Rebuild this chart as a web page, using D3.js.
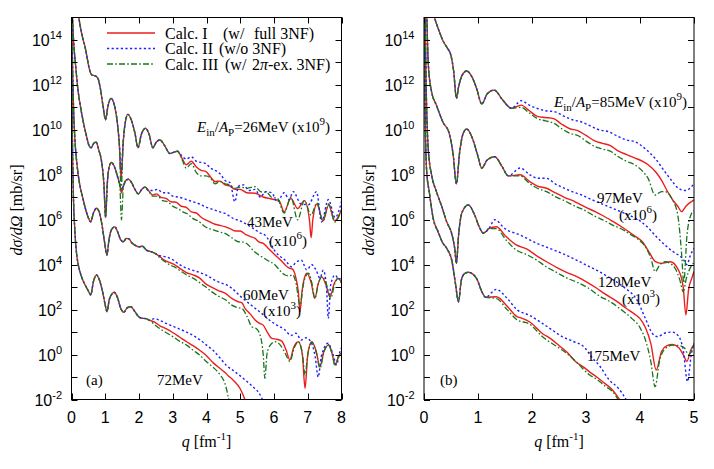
<!DOCTYPE html>
<html><head><meta charset="utf-8">
<script src="https://cdn.jsdelivr.net/npm/d3@7"></script>
<style>body{margin:0;background:#fff}svg{display:block}</style>
</head><body><svg id="c" width="714" height="469"></svg>
<script>
// ---------- data (q in fm^-1, value = log10 of dσ/dΩ incl. offset factor) ----------
const qTicksA = [0,1,2,3,4,5,6,7,8];
const qTicksB = [0,1,2,3,4,5];
const yLabelExps = [-2,0,2,4,6,8,10,12,14];
const yTickExps = [-2,-1,0,1,2,3,4,5,6,7,8,9,10,11,12,13,14];
const calcNames = ["Calc. I", "Calc. II", "Calc. III"];

// Panel (a): 26 MeV (x1e9)
const A26_pre = [[0.19,15.3],[0.26,14.6],[0.33,14.1],[0.40,13.7],[0.47,13.15],[0.53,12.7],[0.60,12.45],[0.70,12.4],[0.78,12.3],[0.86,11.8],[0.94,11.0],[1.01,10.45],[1.08,11.05],[1.17,11.4],[1.27,11.1],[1.36,10.3],[1.42,9.3]];
const A26_dipI = [[1.47,7.8]];
const A26_dipII = [[1.47,8.1]];
const A26_dipIII = [[1.47,7.3]];
const A26_mid = [[1.53,9.4],[1.59,10.3],[1.67,10.69],[1.77,10.45],[1.88,9.85],[1.97,9.2],[2.07,9.8],[2.19,10.07],[2.30,9.8],[2.41,9.2],[2.51,9.45],[2.62,9.55],[2.76,9.3],[2.91,8.95],[3.02,9.0],[3.14,9.05]];
const A26_I = [[3.27,8.75],[3.40,8.45],[3.55,8.6],[3.70,8.35],[3.84,8.2],[3.98,8.15],[4.12,7.9],[4.25,7.7],[4.40,7.72],[4.55,7.55],[4.70,7.5],[4.85,7.35],[5.0,7.35],[5.2,7.2],[5.44,7.18],[5.7,7.0],[5.85,6.95],[6.0,6.9],[6.15,6.85],[6.3,6.35],[6.5,6.95],[6.7,6.5],[6.9,6.85],[7.05,6.0],[7.1,5.2],[7.15,6.0],[7.27,6.7],[7.45,5.95],[7.62,6.65],[7.8,5.95],[8.0,6.45]];
const A26_II = [[3.27,8.85],[3.40,8.7],[3.55,8.8],[3.70,8.6],[3.84,8.55],[3.98,8.5],[4.12,8.3],[4.25,8.2],[4.40,8.05],[4.55,7.75],[4.70,7.65],[4.84,6.8],[4.95,7.5],[5.1,7.55],[5.25,7.3],[5.44,7.35],[5.6,7.0],[5.75,7.25],[5.93,7.2],[6.1,6.8],[6.3,7.2],[6.45,6.9],[6.57,7.25],[6.8,6.7],[7.02,6.67],[7.26,7.25],[7.41,5.9],[7.61,6.9],[7.81,6.1],[8.0,6.8]];
const A26_III = [[3.27,8.7],[3.40,8.3],[3.55,8.5],[3.70,8.1],[3.84,7.95],[3.98,7.95],[4.12,7.85],[4.25,7.6],[4.40,7.7],[4.55,7.6],[4.70,7.55],[4.85,7.4],[5.0,7.45],[5.2,7.4],[5.44,7.47],[5.6,7.25],[5.8,7.2],[5.93,7.0],[6.1,6.95],[6.3,6.3],[6.5,7.0],[6.7,6.0],[6.9,6.85],[7.1,6.2],[7.27,6.75],[7.45,5.95],[7.62,6.7],[7.8,5.9],[8.0,6.45]];

// Panel (a): 43 MeV (x1e6)
const A43_pre = [[0.02,15.3],[0.06,14.0],[0.12,12.9],[0.19,11.8],[0.27,11.0],[0.35,10.35],[0.44,9.75],[0.52,9.3],[0.58,9.2],[0.66,9.4],[0.73,9.45],[0.81,9.1],[0.89,8.6],[0.96,7.6],[1.01,6.1],[1.06,7.6],[1.11,8.3],[1.18,8.55],[1.26,8.4],[1.35,8.0],[1.43,7.55]];
const A43_dipI = [[1.48,7.2]];
const A43_dipII = [[1.48,7.4]];
const A43_dipIII = [[1.48,6.0]];
const A43_mid = [[1.54,7.5],[1.61,7.75],[1.69,7.8],[1.78,7.65],[1.88,7.35],[1.98,7.15],[2.08,7.35],[2.18,7.45],[2.28,7.3]];
const A43_I = [[2.4,7.1],[2.52,7.15],[2.65,7.0],[2.8,6.95],[2.95,6.8],[3.1,6.78],[3.25,6.6],[3.4,6.55],[3.55,6.35],[3.7,6.3],[3.85,6.1],[3.96,6.0],[4.1,5.9],[4.25,5.8],[4.4,5.75],[4.55,5.69],[4.7,5.6],[4.85,5.5],[5.0,5.5],[5.15,5.35],[5.3,5.25],[5.44,5.17],[5.56,5.0],[5.68,4.95],[5.85,4.7],[6.03,4.43],[6.2,4.2],[6.33,3.99],[6.45,3.85],[6.55,3.8],[6.65,3.4],[6.72,2.8],[6.77,1.91],[6.83,2.8],[6.9,3.4],[6.98,3.62],[7.1,3.2],[7.21,2.5],[7.31,3.15],[7.41,3.47],[7.54,3.1],[7.66,2.57],[7.78,3.15],[7.9,3.39],[8.0,3.2]];
const A43_II = [[2.4,7.3],[2.55,7.35],[2.7,7.2],[2.85,7.2],[3.0,7.05],[3.2,7.0],[3.4,6.9],[3.6,6.8],[3.8,6.7],[3.96,6.58],[4.2,6.45],[4.4,6.35],[4.55,6.28],[4.8,6.05],[5.0,5.95],[5.14,5.84],[5.4,5.6],[5.6,5.4],[5.73,5.32],[5.9,4.95],[6.03,4.6],[6.13,4.43],[6.33,4.2],[6.52,3.91],[6.65,4.1],[6.81,4.2],[6.97,3.77],[7.12,4.0],[7.25,3.75],[7.36,3.4],[7.46,3.75],[7.55,3.1],[7.61,1.61],[7.68,3.1],[7.81,3.54],[7.92,3.35],[8.0,3.45]];
const A43_III = [[2.4,7.05],[2.55,7.05],[2.7,6.85],[2.85,6.8],[3.0,6.6],[3.15,6.5],[3.3,6.35],[3.45,6.25],[3.6,6.05],[3.75,5.95],[3.96,5.69],[4.2,5.55],[4.4,5.45],[4.55,5.39],[4.75,5.2],[4.94,5.02],[5.1,5.0],[5.24,4.88],[5.4,4.6],[5.63,4.36],[5.8,4.2],[6.03,3.99],[6.2,3.7],[6.33,3.54],[6.45,3.5],[6.55,3.55],[6.65,3.2],[6.77,2.2],[6.88,3.2],[7.02,3.62],[7.12,3.2],[7.21,2.5],[7.32,3.2],[7.43,3.47],[7.56,3.1],[7.68,2.5],[7.8,3.15],[7.9,3.39],[8.0,3.17]];

// Panel (a): 60 MeV (x1e3)
const A60_pre = [[0.01,15.3],[0.03,13.0],[0.06,11.0],[0.1,9.6],[0.16,8.5],[0.24,7.6],[0.33,7.0],[0.43,6.4],[0.51,6.05],[0.57,5.91],[0.65,6.3],[0.74,6.51],[0.82,6.35],[0.9,5.8],[0.98,5.0],[1.05,4.43],[1.11,5.1],[1.18,5.55],[1.28,5.69],[1.37,5.45],[1.46,5.1],[1.53,5.02],[1.63,5.17],[1.7,5.15],[1.8,4.95],[1.9,4.85],[2.0,4.8],[2.1,4.82],[2.22,4.65],[2.35,4.58],[2.5,4.48]];
const A60_I = [[2.62,4.36],[2.75,4.2],[2.9,4.1],[3.05,4.0],[3.2,3.85],[3.4,3.65],[3.6,3.55],[3.8,3.4],[3.96,3.17],[4.15,3.0],[4.35,2.85],[4.55,2.73],[4.75,2.5],[4.94,2.35],[5.05,2.3],[5.14,2.06],[5.3,1.8],[5.44,1.54],[5.56,1.4],[5.68,1.31],[5.8,1.0],[5.93,0.72],[6.08,0.68],[6.23,0.6],[6.36,0.2],[6.47,-0.24],[6.58,0.3],[6.72,0.57],[6.84,0.0],[6.92,-1.5],[7.0,0.0],[7.12,0.57],[7.25,0.15],[7.36,-0.54],[7.48,0.15],[7.61,0.42],[7.72,0.05],[7.81,-0.47],[7.92,-0.05],[8.0,0.06]];
const A60_II = [[2.62,4.4],[2.8,4.35],[3.0,4.22],[3.2,4.0],[3.4,3.85],[3.6,3.75],[3.8,3.65],[3.99,3.54],[4.2,3.35],[4.4,3.2],[4.6,3.1],[4.75,2.95],[5.0,2.6],[5.2,2.35],[5.44,2.06],[5.7,1.75],[5.93,1.46],[6.1,1.3],[6.33,1.09],[6.5,0.85],[6.65,0.95],[6.81,0.65],[6.95,0.75],[7.1,0.55],[7.22,-0.1],[7.31,-1.0],[7.4,-0.1],[7.6,0.5],[7.75,0.0],[7.85,-0.45],[7.95,0.1],[8.0,0.3]];
const A60_III = [[2.62,4.3],[2.75,4.15],[2.9,4.0],[3.05,3.9],[3.2,3.75],[3.4,3.55],[3.6,3.4],[3.8,3.2],[3.96,3.03],[4.15,2.8],[4.35,2.6],[4.55,2.45],[4.75,2.2],[4.9,2.1],[5.05,2.05],[5.2,1.7],[5.34,1.24],[5.48,1.15],[5.6,0.8],[5.68,0.0],[5.73,-1.06],[5.79,0.0],[5.88,0.4],[6.03,0.57],[6.2,0.4],[6.35,0.0],[6.47,-0.3],[6.6,0.3],[6.72,0.57],[6.84,0.05],[6.92,-0.9],[7.0,0.0],[7.12,0.55],[7.25,0.1],[7.36,-0.6],[7.48,0.1],[7.61,0.45],[7.72,0.05],[7.81,-0.5],[7.92,-0.05],[8.0,0.06]];

// Panel (a): 72 MeV (x1)
const A72_pre = [[0.005,15.3],[0.02,11.0],[0.05,7.5],[0.1,5.5],[0.15,4.5],[0.2,4.0],[0.3,3.45],[0.42,3.05],[0.51,2.8],[0.57,2.65],[0.65,3.25],[0.74,3.54],[0.82,3.35],[0.92,2.8],[1.0,2.2],[1.05,1.91],[1.12,2.45],[1.2,2.7],[1.26,2.77],[1.36,2.55],[1.46,2.05],[1.55,1.88],[1.65,2.08],[1.76,2.13],[1.86,1.95],[1.97,1.72],[2.07,1.62],[2.2,1.6],[2.32,1.52]];
const A72_I = [[2.45,1.45],[2.62,1.28],[2.8,1.15],[3.02,0.96],[3.2,0.78],[3.41,0.57],[3.6,0.4],[3.81,0.18],[4.0,-0.05],[4.2,-0.37],[4.4,-0.62],[4.55,-0.8],[4.65,-0.95],[4.8,-1.15],[4.99,-1.5],[5.1,-1.85],[5.2,-2.3]];
const A72_II = [[2.45,1.6],[2.62,1.52],[2.82,1.38],[3.1,1.2],[3.41,1.0],[3.6,0.85],[3.81,0.65],[4.0,0.42],[4.2,0.18],[4.4,-0.15],[4.6,-0.5],[4.8,-0.72],[5.0,-0.95],[5.2,-1.2],[5.39,-1.45],[5.55,-1.7],[5.75,-2.3]];
const A72_III = [[2.45,1.35],[2.62,1.15],[2.8,0.98],[3.0,0.8],[3.2,0.6],[3.41,0.42],[3.6,0.2],[3.81,-0.04],[4.0,-0.32],[4.2,-0.57],[4.4,-0.9],[4.55,-1.3],[4.7,-2.3]];

// Panel (b): 85 MeV (x1e9)
const B85_pre = [[0.16,15.3],[0.22,14.8],[0.28,14.4],[0.36,13.92],[0.43,13.65],[0.5,13.3],[0.55,12.6],[0.6,11.4],[0.64,11.9],[0.7,12.4],[0.79,12.62],[0.9,12.3],[0.98,11.8],[1.07,11.15],[1.17,11.6],[1.3,11.77],[1.45,11.35],[1.62,10.96]];
const B85_I = [[1.8,11.1],[1.95,10.85],[2.1,10.6],[2.25,10.55],[2.4,10.5],[2.55,10.25],[2.7,10.05],[2.85,9.97],[3.0,9.75],[3.17,9.5],[3.3,9.4],[3.45,9.3],[3.6,9.05],[3.75,8.9],[3.9,8.75],[4.05,8.6],[4.15,8.45],[4.3,8.1],[4.4,7.75],[4.5,7.3],[4.6,6.9],[4.7,6.6],[4.77,6.36],[4.85,6.6],[5.0,6.88]];
const B85_II = [[1.8,11.3],[1.95,11.1],[2.1,10.95],[2.25,10.85],[2.43,10.8],[2.6,10.6],[2.75,10.45],[2.92,10.35],[3.1,10.15],[3.25,10.0],[3.42,9.92],[3.6,9.7],[3.75,9.55],[3.91,9.47],[4.1,9.15],[4.28,8.73],[4.46,8.14],[4.6,7.7],[4.71,7.4],[4.84,7.3],[5.0,7.6]];
const B85_III = [[1.8,11.0],[1.95,10.75],[2.1,10.5],[2.25,10.4],[2.4,10.3],[2.55,10.05],[2.7,9.85],[2.85,9.75],[3.0,9.5],[3.17,9.25],[3.3,9.15],[3.45,9.05],[3.6,8.8],[3.75,8.6],[3.9,8.45],[4.05,8.15],[4.15,7.84],[4.28,7.1],[4.4,7.25],[4.46,7.25],[4.6,6.9],[4.7,6.2],[4.77,4.5],[4.81,3.2],[4.87,5.3],[4.94,6.2],[5.0,6.4]];

// Panel (b): 97 MeV (x1e6)
const B97_pre = [[0.05,15.3],[0.08,12.9],[0.14,11.7],[0.23,11.1],[0.36,10.3],[0.46,9.9],[0.54,8.9],[0.6,7.6],[0.66,9.0],[0.72,9.8],[0.79,10.04],[0.9,9.6],[0.99,8.9],[1.07,8.3],[1.17,8.66],[1.31,8.8],[1.45,8.35],[1.56,7.95]];
const B97_I = [[1.78,8.0],[1.96,7.7],[2.1,7.5],[2.27,7.4],[2.43,7.2],[2.6,7.0],[2.8,6.8],[3.0,6.55],[3.17,6.36],[3.3,6.2],[3.48,5.95],[3.65,5.7],[3.79,5.47],[3.92,5.25],[4.04,5.03],[4.17,4.55],[4.28,4.15],[4.4,4.06],[4.56,4.13],[4.71,3.77],[4.8,3.0],[4.85,1.76],[4.9,2.9],[4.96,3.4],[5.0,3.7]];
const B97_II = [[1.78,8.3],[1.96,8.0],[2.1,7.85],[2.27,7.84],[2.43,7.6],[2.6,7.4],[2.8,7.2],[2.92,7.1],[3.1,6.9],[3.25,6.75],[3.42,6.58],[3.6,6.4],[3.79,6.21],[4.0,5.95],[4.16,5.62],[4.3,5.25],[4.46,4.88],[4.6,4.6],[4.71,4.43],[4.8,4.25],[4.87,4.0],[4.93,4.4],[5.0,4.73]];
const B97_III = [[1.78,7.95],[1.96,7.6],[2.1,7.4],[2.27,7.25],[2.43,7.03],[2.6,6.85],[2.8,6.6],[2.95,6.45],[3.17,6.15],[3.35,5.95],[3.5,5.75],[3.65,5.6],[3.79,5.4],[3.95,5.15],[4.1,4.8],[4.2,4.3],[4.28,3.69],[4.37,4.0],[4.46,4.13],[4.56,4.05],[4.65,3.84],[4.74,3.3],[4.8,2.8],[4.86,3.4],[4.94,3.9],[5.0,4.1]];

// Panel (b): 120 MeV (x1e3)
const B120_pre = [[0.02,15.3],[0.04,12.0],[0.08,9.1],[0.14,8.0],[0.23,7.25],[0.32,6.65],[0.42,5.91],[0.52,5.32],[0.57,4.7],[0.6,4.06],[0.64,5.3],[0.7,6.3],[0.82,6.66],[0.94,6.2],[1.02,5.7],[1.1,5.4],[1.2,5.6]];
const B120_I = [[1.34,5.69],[1.52,5.25],[1.71,4.88],[1.9,4.7],[2.11,4.36],[2.27,4.13],[2.48,3.85],[2.65,3.65],[2.8,3.5],[3.0,3.25],[3.2,2.95],[3.35,2.7],[3.55,2.4],[3.75,2.05],[3.9,1.8],[4.0,1.6],[4.1,1.2],[4.2,0.5],[4.3,-0.69],[4.4,0.15],[4.5,0.4],[4.6,0.45],[4.72,0.3],[4.8,0.0],[4.87,-0.3],[4.94,0.2],[5.0,0.45]];
const B120_II = [[1.31,6.0],[1.5,5.6],[1.78,5.32],[2.09,4.95],[2.3,4.75],[2.48,4.58],[2.7,4.35],[2.95,4.05],[3.2,3.75],[3.45,3.4],[3.7,3.0],[3.95,2.4],[4.1,1.6],[4.23,0.94],[4.33,0.8],[4.45,0.95],[4.6,1.0],[4.72,0.8],[4.8,0.2],[4.88,-1.2],[4.95,0.0],[5.0,0.5]];
const B120_III = [[1.34,5.6],[1.52,5.1],[1.71,4.65],[1.9,4.45],[2.09,4.2],[2.27,3.9],[2.48,3.62],[2.65,3.4],[2.85,3.2],[3.05,2.95],[3.25,2.6],[3.45,2.35],[3.65,2.0],[3.85,1.6],[4.0,1.2],[4.12,0.5],[4.2,-0.3],[4.28,-1.43],[4.36,-0.3],[4.46,0.25],[4.6,0.42],[4.72,0.4],[4.82,0.3],[4.9,0.0],[5.0,0.5]];

// Panel (b): 175 MeV (x1)
const B175_pre = [[0.01,15.3],[0.02,11.0],[0.05,8.14],[0.1,7.2],[0.17,6.06],[0.26,5.47],[0.34,5.0],[0.42,4.73],[0.52,4.13],[0.58,3.2],[0.64,2.35],[0.69,3.3],[0.75,3.6],[0.82,3.66],[0.97,3.4],[1.08,2.75],[1.14,2.55]];
const B175_I = [[1.34,2.57],[1.54,2.15],[1.72,1.69],[1.81,1.62],[1.96,1.45],[2.19,0.94],[2.35,0.7],[2.5,0.4],[2.65,0.1],[2.81,-0.32],[2.95,-0.55],[3.06,-0.76],[3.2,-1.0],[3.31,-1.21],[3.49,-1.58],[3.62,-2.0],[3.7,-2.3]];
const B175_II = [[1.34,2.9],[1.54,2.5],[1.72,2.0],[1.95,1.75],[2.19,1.39],[2.4,1.05],[2.56,0.8],[2.75,0.6],[2.98,0.3],[3.1,-0.1],[3.25,-0.5],[3.43,-1.13],[3.6,-1.5],[3.74,-2.0],[3.8,-2.3]];
const B175_III = [[1.34,2.5],[1.54,2.0],[1.72,1.55],[1.96,1.35],[2.19,0.8],[2.4,0.45],[2.56,0.2],[2.68,-0.02],[2.85,-0.4],[3.06,-0.9],[3.2,-1.1],[3.35,-1.4],[3.49,-1.65],[3.59,-2.0],[3.65,-2.3]];

// ---------- build series ----------
const seriesA = [
  [A26_pre.concat(A26_dipI, A26_mid, A26_I), A26_pre.concat(A26_dipII, A26_mid, A26_II), A26_pre.concat(A26_dipIII, A26_mid, A26_III)],
  [A43_pre.concat(A43_dipI, A43_mid, A43_I), A43_pre.concat(A43_dipII, A43_mid, A43_II), A43_pre.concat(A43_dipIII, A43_mid, A43_III)],
  [A60_pre.concat(A60_I), A60_pre.concat(A60_II), A60_pre.concat(A60_III)],
  [A72_pre.concat(A72_I), A72_pre.concat(A72_II), A72_pre.concat(A72_III)]
];
const seriesB = [
  [B85_pre.concat(B85_I), B85_pre.concat(B85_II), B85_pre.concat(B85_III)],
  [B97_pre.concat(B97_I), B97_pre.concat(B97_II), B97_pre.concat(B97_III)],
  [B120_pre.concat(B120_I), B120_pre.concat(B120_II), B120_pre.concat(B120_III)],
  [B175_pre.concat(B175_I), B175_pre.concat(B175_II), B175_pre.concat(B175_III)]
];

// ---------- drawing ----------
const svg = d3.select("#c");
const TOP = 17.5, BOT = 399.5;
const y = d3.scaleLog().domain([1e-2, 1e15]).range([BOT, TOP]);
const styles = [
  {stroke:"#ee1d1d", dash:null, w:1.4},
  {stroke:"#1f1fff", dash:"2.2,2.4", w:1.4},
  {stroke:"#16761a", dash:"6,2.2,1.6,2.2", w:1.3}
];
const SERIF = "'Liberation Serif','Times New Roman',serif";
const SANS = "'Liberation Sans',Arial,sans-serif";

function drawPanel(id, x0, x1, qmax, qTicks, series) {
  const x = d3.scaleLinear().domain([0, qmax]).range([x0, x1]);
  const g = svg.append("g");
  svg.append("clipPath").attr("id", "clip" + id).append("rect")
    .attr("x", x0).attr("y", TOP).attr("width", x1 - x0).attr("height", BOT - TOP);
  const line = d3.line().x(d => x(d[0])).y(d => y(Math.pow(10, d[1]))).curve(d3.curveMonotoneX);
  const cg = g.append("g").attr("clip-path", "url(#clip" + id + ")");
  [0,1,2].forEach(ci => {
    series.forEach(s => {
      cg.append("path").attr("d", line(s[ci])).attr("fill", "none")
        .attr("stroke", styles[ci].stroke).attr("stroke-width", styles[ci].w)
        .attr("stroke-dasharray", styles[ci].dash);
    });
  });
  g.append("rect").attr("x", x0).attr("y", TOP).attr("width", x1 - x0).attr("height", BOT - TOP)
    .attr("fill", "none").attr("stroke", "#000").attr("stroke-width", 1);
  yTickExps.forEach(e => {
    const yy = Math.round(y(Math.pow(10, e))) + 0.5;
    g.append("line").attr("x1", x0).attr("x2", x0 + 6).attr("y1", yy).attr("y2", yy).attr("stroke", "#000");
    g.append("line").attr("x1", x1).attr("x2", x1 - 6).attr("y1", yy).attr("y2", yy).attr("stroke", "#000");
  });
  yLabelExps.forEach(e => {
    const yy = y(Math.pow(10, e));
    const t = g.append("text").attr("x", x0 - 9.5).attr("y", yy + 6.5).attr("text-anchor", "end")
      .attr("font-family", SANS).attr("font-size", 16).attr("fill", "#000");
    t.append("tspan").text("10");
    t.append("tspan").attr("dy", -7).attr("font-size", 11).text(e < 0 ? "-" + (-e) : String(e));
  });
  qTicks.forEach(q => {
    const xx = Math.round(x(q)) + 0.5;
    g.append("line").attr("x1", xx).attr("x2", xx).attr("y1", BOT).attr("y2", BOT - 6).attr("stroke", "#000");
    g.append("line").attr("x1", xx).attr("x2", xx).attr("y1", TOP).attr("y2", TOP + 6).attr("stroke", "#000");
    g.append("text").attr("x", x(q)).attr("y", BOT + 23.5).attr("text-anchor", "middle")
      .attr("font-family", SANS).attr("font-size", 16).text(String(q));
  });
  const xl = g.append("text").attr("x", (x0 + x1) / 2).attr("y", 447).attr("text-anchor", "middle")
    .attr("font-family", SERIF).attr("font-size", 16);
  xl.append("tspan").attr("font-style", "italic").text("q");
  xl.append("tspan").text(" [fm");
  xl.append("tspan").attr("dy", -7).attr("font-size", 11).text("-1");
  xl.append("tspan").attr("dy", 7).text("]");
  const yl = g.append("text").attr("transform", `translate(${x0 - 50},210) rotate(-90)`)
    .attr("text-anchor", "middle").attr("font-family", SERIF).attr("font-size", 16);
  yl.append("tspan").attr("font-style", "italic").text("dσ/dΩ");
  yl.append("tspan").text(" [mb/sr]");
  return g;
}

drawPanel("A", 71.5, 341.5, 8, qTicksA, seriesA);
drawPanel("B", 424, 694, 5, qTicksB, seriesB);

// legend
const legY = [33, 48.5, 64];
[0,1,2].forEach(i => {
  svg.append("line").attr("x1", 107).attr("x2", 155).attr("y1", legY[i]).attr("y2", legY[i])
    .attr("stroke", styles[i].stroke).attr("stroke-width", styles[i].w).attr("stroke-dasharray", styles[i].dash);
});
{
  const t = svg.append("text").attr("y", legY[0] + 5.5).attr("font-family", SERIF).attr("font-size", 16);
  t.append("tspan").attr("x", 165).text(calcNames[0]);
  t.append("tspan").attr("x", 223).text("(w/");
  t.append("tspan").attr("x", 254).text("full 3NF)");
}
{
  const t = svg.append("text").attr("y", legY[1] + 5.5).attr("font-family", SERIF).attr("font-size", 16);
  t.append("tspan").attr("x", 165).text(calcNames[1]);
  t.append("tspan").attr("x", 219).text("(w/o 3NF)");
}
{
  const t = svg.append("text").attr("y", legY[2] + 5.5).attr("font-family", SERIF).attr("font-size", 16);
  t.append("tspan").attr("x", 165).text(calcNames[2]);
  t.append("tspan").attr("x", 225).text("(w/");
  t.append("tspan").attr("x", 252).text("2");
  t.append("tspan").attr("font-style", "italic").text("π");
  t.append("tspan").text("-ex. 3NF)");
}

// annotations
function energyLabel(x, yb, val) {
  const t = svg.append("text").attr("x", x).attr("y", yb).attr("font-family", SERIF).attr("font-size", 15);
  t.append("tspan").attr("font-style", "italic").text("E");
  t.append("tspan").attr("dy", 4).attr("font-size", 11).text("in");
  t.append("tspan").attr("dy", -4).text("/");
  t.append("tspan").attr("font-style", "italic").text("A");
  t.append("tspan").attr("dy", 4).attr("font-size", 11).text("P");
  t.append("tspan").attr("dy", -4).text("=" + val + " (x10");
  t.append("tspan").attr("dy", -7).attr("font-size", 11).text("9");
  t.append("tspan").attr("dy", 7).text(")");
}
function plain(x, yb, s) {
  svg.append("text").attr("x", x).attr("y", yb).attr("font-family", SERIF).attr("font-size", 15).text(s);
}
function factor(x, yb, e) {
  const t = svg.append("text").attr("x", x).attr("y", yb).attr("font-family", SERIF).attr("font-size", 15);
  t.append("tspan").text("(x10");
  t.append("tspan").attr("dy", -7).attr("font-size", 11).text(e);
  t.append("tspan").attr("dy", 7).text(")");
}
energyLabel(197, 132, "26MeV");
plain(247, 227, "43MeV"); factor(269, 246, "6");
plain(243, 300, "60MeV"); factor(263, 316, "3");
plain(157, 385, "72MeV");
plain(86, 385, "(a)");

energyLabel(554, 107, "85MeV");
plain(597, 203, "97MeV"); factor(619, 220, "6");
plain(598, 287, "120MeV"); factor(622, 304, "3");
plain(587, 361, "175MeV");
plain(440, 385, "(b)");
</script></body></html>
